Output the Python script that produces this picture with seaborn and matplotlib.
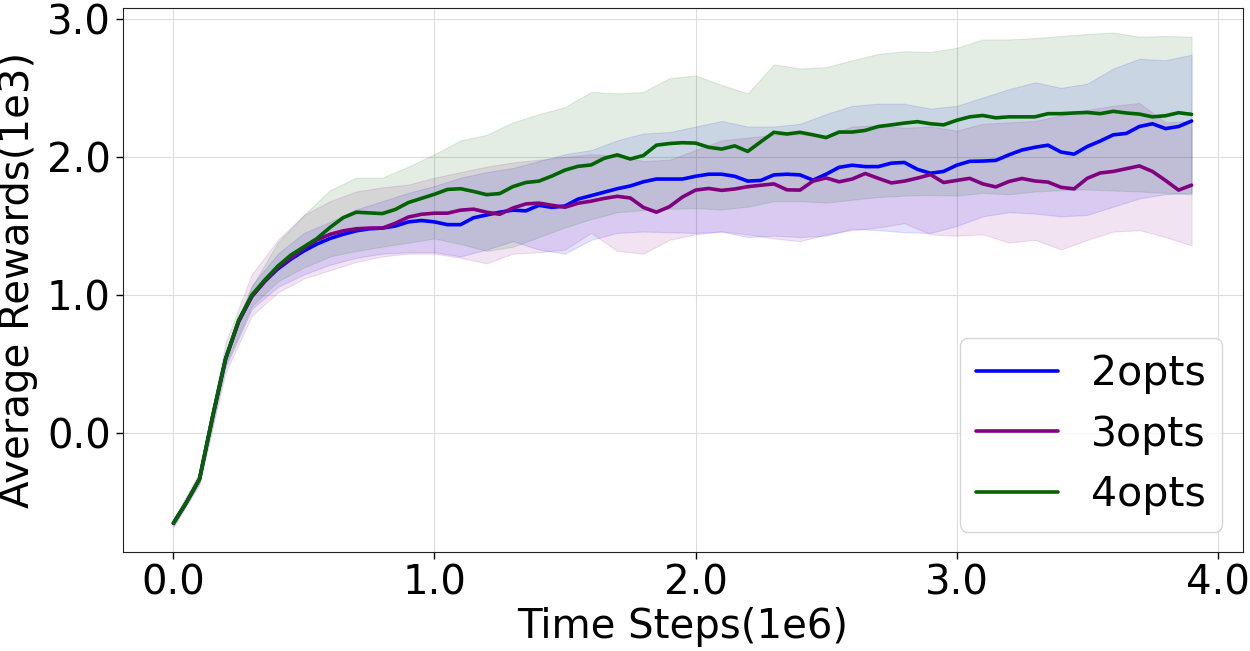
import matplotlib

matplotlib.use("Agg")

import matplotlib.pyplot as plt
import numpy as np
import pandas as pd
import seaborn as sns


# mean curves, sampled every 0.05 (x in 1e6 steps, y in 1e3 reward)
STEPS = [round(0.05 * i, 2) for i in range(79)]

MEAN_2OPTS = [
	-0.65, -0.50, -0.33, 0.12, 0.54, 0.81, 0.99, 1.10, 1.19, 1.26,
	1.32, 1.37, 1.41, 1.44, 1.465, 1.48, 1.485, 1.50, 1.53, 1.54,
	1.53, 1.51, 1.51, 1.56, 1.58, 1.60, 1.615, 1.61, 1.65, 1.635,
	1.645, 1.695, 1.72, 1.745, 1.77, 1.79, 1.82, 1.84, 1.84, 1.84,
	1.86, 1.875, 1.875, 1.86, 1.825, 1.83, 1.87, 1.875, 1.87, 1.832,
	1.875, 1.925, 1.94, 1.93, 1.93, 1.955, 1.96, 1.91, 1.882, 1.895,
	1.94, 1.968, 1.97, 1.975, 2.015, 2.05, 2.07, 2.085, 2.035, 2.02,
	2.075, 2.115, 2.16, 2.17, 2.22, 2.24, 2.205, 2.22, 2.26,
]
MEAN_3OPTS = [
	-0.65, -0.50, -0.33, 0.12, 0.54, 0.81, 0.99, 1.10, 1.20, 1.27,
	1.34, 1.40, 1.44, 1.465, 1.48, 1.485, 1.485, 1.52, 1.565, 1.585,
	1.593, 1.593, 1.615, 1.622, 1.60, 1.585, 1.63, 1.66, 1.666, 1.65,
	1.636, 1.665, 1.68, 1.70, 1.715, 1.703, 1.635, 1.60, 1.64, 1.71,
	1.76, 1.772, 1.758, 1.768, 1.785, 1.795, 1.805, 1.762, 1.76, 1.825,
	1.848, 1.82, 1.84, 1.88, 1.845, 1.812, 1.825, 1.847, 1.872, 1.815,
	1.83, 1.845, 1.805, 1.783, 1.822, 1.844, 1.826, 1.818, 1.78, 1.769,
	1.845, 1.884, 1.895, 1.915, 1.935, 1.895, 1.83, 1.76, 1.796,
]
MEAN_4OPTS = [
	-0.65, -0.50, -0.33, 0.12, 0.54, 0.82, 1.00, 1.11, 1.21, 1.29,
	1.35, 1.41, 1.49, 1.56, 1.60, 1.595, 1.59, 1.62, 1.67, 1.70,
	1.73, 1.765, 1.77, 1.75, 1.727, 1.735, 1.785, 1.815, 1.825, 1.862,
	1.905, 1.932, 1.942, 1.99, 2.015, 1.985, 2.01, 2.085, 2.097, 2.103,
	2.10, 2.07, 2.057, 2.08, 2.04, 2.11, 2.178, 2.166, 2.178, 2.16,
	2.14, 2.18, 2.18, 2.192, 2.22, 2.232, 2.245, 2.255, 2.24, 2.232,
	2.265, 2.29, 2.30, 2.283, 2.29, 2.29, 2.29, 2.313, 2.313, 2.318,
	2.322, 2.313, 2.33, 2.318, 2.31, 2.29, 2.298, 2.32, 2.308,
]

# spread bands, sampled every 0.1
BAND_STEPS = [round(0.1 * i, 1) for i in range(40)]

LOW_2OPTS = [
	-0.67, -0.36, 0.48, 0.90, 1.06, 1.15, 1.22, 1.27, 1.30, 1.31,
	1.31, 1.28, 1.33, 1.39, 1.33, 1.30, 1.40, 1.45, 1.46, 1.455,
	1.45, 1.46, 1.42, 1.43, 1.42, 1.43, 1.48, 1.47, 1.455, 1.45,
	1.50, 1.57, 1.60, 1.59, 1.57, 1.58, 1.64, 1.70, 1.73, 1.74,
]
HIGH_2OPTS = [
	-0.63, -0.30, 0.60, 1.07, 1.30, 1.45, 1.53, 1.62, 1.68, 1.74,
	1.79, 1.85, 1.89, 1.92, 1.97, 2.02, 2.05, 2.12, 2.17, 2.18,
	2.22, 2.26, 2.22, 2.22, 2.24, 2.31, 2.37, 2.385, 2.385, 2.35,
	2.37, 2.43, 2.49, 2.54, 2.50, 2.53, 2.64, 2.71, 2.70, 2.74,
]
LOW_3OPTS = [
	-0.68, -0.37, 0.44, 0.85, 1.02, 1.12, 1.18, 1.24, 1.28, 1.30,
	1.30, 1.27, 1.23, 1.30, 1.31, 1.33, 1.45, 1.32, 1.30, 1.40,
	1.44, 1.46, 1.44, 1.41, 1.39, 1.44, 1.47, 1.49, 1.52, 1.44,
	1.43, 1.44, 1.38, 1.40, 1.33, 1.40, 1.46, 1.47, 1.42, 1.36,
]
HIGH_3OPTS = [
	-0.62, -0.28, 0.66, 1.15, 1.40, 1.58, 1.68, 1.75, 1.78, 1.80,
	1.85, 1.89, 1.93, 1.96, 1.98, 2.00, 2.02, 2.01, 1.97, 1.98,
	2.05, 2.12, 2.14, 2.16, 2.165, 2.155, 2.22, 2.23, 2.21, 2.22,
	2.19, 2.24, 2.25, 2.26, 2.30, 2.34, 2.37, 2.39, 2.25, 2.26,
]
LOW_4OPTS = [
	-0.67, -0.35, 0.50, 0.92, 1.10, 1.20, 1.28, 1.32, 1.35, 1.38,
	1.41, 1.37, 1.32, 1.35, 1.42, 1.49, 1.55, 1.60, 1.615, 1.625,
	1.63, 1.62, 1.64, 1.68, 1.68, 1.67, 1.69, 1.71, 1.72, 1.725,
	1.72, 1.74, 1.73, 1.75, 1.76, 1.765, 1.757, 1.75, 1.74, 1.73,
]
HIGH_4OPTS = [
	-0.63, -0.31, 0.58, 1.06, 1.38, 1.58, 1.76, 1.85, 1.85, 1.93,
	2.02, 2.12, 2.16, 2.25, 2.31, 2.36, 2.47, 2.46, 2.47, 2.57,
	2.59, 2.52, 2.46, 2.67, 2.64, 2.65, 2.70, 2.745, 2.765, 2.76,
	2.79, 2.85, 2.85, 2.86, 2.875, 2.89, 2.90, 2.87, 2.875, 2.87,
]

LABELS = ["2opts", "3opts", "4opts"]
COLORS = ["#0000ff", "#800080", "#006400"]


def build_frame():
	means = [MEAN_2OPTS, MEAN_3OPTS, MEAN_4OPTS]
	parts = [pd.DataFrame({"step": STEPS, "reward": m, "run": label}) for label, m in zip(LABELS, means)]
	return pd.concat(parts, ignore_index=True)


def main():
	sns.set_style("ticks")
	plt.rcParams["font.family"] = ["DejaVu Sans"]
	for key in ["text.color", "axes.labelcolor", "xtick.color", "ytick.color"]:
		plt.rcParams[key] = "black"

	fig, ax = plt.subplots(figsize=(12.5, 6.51), dpi=100)
	fig.subplots_adjust(left=0.098, right=0.994, top=0.988, bottom=0.152)

	bands = [(LOW_2OPTS, HIGH_2OPTS), (LOW_3OPTS, HIGH_3OPTS), (LOW_4OPTS, HIGH_4OPTS)]
	for (low, high), color in zip(bands, COLORS):
		ax.fill_between(BAND_STEPS, low, high, color=color, alpha=0.11, linewidth=0.8)

	df = build_frame()
	sns.lineplot(data=df, x="step", y="reward", hue="run", palette=COLORS, linewidth=2.6, ax=ax)

	ax.set_xticks([0, 1, 2, 3, 4])
	ax.set_yticks([0, 1, 2, 3])
	ax.xaxis.set_major_formatter(matplotlib.ticker.FormatStrFormatter("%.1f"))
	ax.yaxis.set_major_formatter(matplotlib.ticker.FormatStrFormatter("%.1f"))
	ax.tick_params(labelsize=29, length=5, width=1)
	ax.set_xlabel("Time Steps(1e6)", fontsize=29, labelpad=2)
	ax.set_ylabel("Average Rewards(1e3)", fontsize=29, labelpad=6)
	ax.grid(True, color="#dddddd", linewidth=0.8)
	for spine in ax.spines.values():
		spine.set_color("#222222")

	ax.legend(loc="lower right", fontsize=29.5, title=None, handlelength=2.0)

	fig.savefig("out.png", dpi=100)
	plt.close(fig)


if __name__ == "__main__":
	main()
